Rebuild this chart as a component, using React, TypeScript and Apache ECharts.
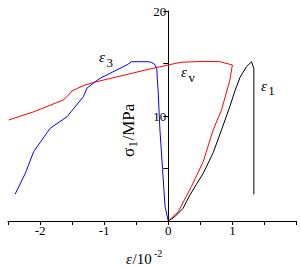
import React, { useEffect, useRef } from "react";
import * as echarts from "echarts";

// ε1 (axial strain) curve: [strain /10^-2, stress MPa]
const eps1X = [0, 0.1, 0.23, 0.34, 0.44, 0.545, 0.7, 0.83, 0.96, 1.04, 1.12, 1.22, 1.3, 1.335, 1.335];
const eps1Y = [0, 0.4, 1.2, 2.5, 3.5, 4.54, 6.5, 8.67, 10.9, 12.4, 13.7, 14.7, 15.17, 14.5, 2.54];

// εv (volumetric strain) curve
const epsVX = [0, 0.156, 0.36, 0.545, 0.7, 0.83, 0.96, 1.0, 0.8, 0.56, 0.2, 0, -0.285, -1.115, -1.3, -1.5, -1.58, -1.64, -2.1, -2.49];
const epsVY = [0, 0.89, 3.27, 5.65, 8.67, 10.57, 13.4, 14.86, 15.18, 15.2, 15.12, 14.86, 14.48, 13.27, 12.95, 12.4, 11.84, 11.52, 10.4, 9.62];

// ε3 (lateral strain) curve
const eps3X = [0, -0.05, -0.09, -0.13, -0.155, -0.17, -0.18, -0.21, -0.26, -0.31, -0.57, -0.648, -1.064, -1.14, -1.27, -1.324, -1.58, -1.843, -2.1, -2.23, -2.39];
const eps3Y = [0, 1.36, 5.0, 8.67, 12.0, 13.5, 14.5, 14.9, 15.1, 15.17, 15.17, 14.86, 13.59, 13.27, 12.64, 11.84, 9.93, 8.83, 6.6, 4.54, 2.54];

const xTickLabels = ["-2", "-1", "0", "1"];
const yTickLabels = ["10", "20"];

const zip = (xs: number[], ys: number[]) => xs.map((x, i) => [x, ys[i]]);

export default function App() {
  const ref = useRef<HTMLDivElement>(null);
  useEffect(() => {
    if (!ref.current) return;
    const chart = echarts.init(ref.current, undefined, { renderer: "svg" });
    const serif = "'Liberation Serif', 'Times New Roman', serif";
    const W = 301;
    const gridLeft = 8;
    const gridRight = 4.5;
    const xMin = -2.5;
    const xMax = 2;
    // place the y axis at x = 0 (shift from the grid's left edge)
    const zeroPx = gridLeft + ((0 - xMin) / (xMax - xMin)) * (W - gridLeft - gridRight);
    chart.setOption({
      animation: false,
      backgroundColor: "#ffffff",
      grid: {
        left: gridLeft,
        right: gridRight,
        top: 11,
        bottom: 46,
        containLabel: false,
        outerBoundsMode: "none",
      },
      xAxis: {
        type: "value",
        min: xMin,
        max: xMax,
        interval: 0.5,
        splitLine: { show: false },
        axisLine: { onZero: false, lineStyle: { color: "#000", width: 1 } },
        axisTick: { show: true, inside: false, length: 4, lineStyle: { color: "#000" } },
        axisLabel: {
          color: "#000",
          fontFamily: serif,
          fontSize: 13,
          margin: 3,
          showMinLabel: true,
          showMaxLabel: true,
          formatter: (v: number) => {
            const s = String(Math.round(v));
            return Number.isInteger(v) && xTickLabels.includes(s) ? s : "";
          },
        },
      },
      yAxis: {
        type: "value",
        position: "left",
        offset: -(zeroPx - gridLeft),
        min: 0,
        max: 20,
        interval: 5,
        splitLine: { show: false },
        axisLine: { onZero: false, lineStyle: { color: "#000", width: 1 } },
        axisTick: { show: true, inside: false, length: 5, lineStyle: { color: "#000" } },
        axisLabel: {
          color: "#000",
          fontFamily: serif,
          fontSize: 13,
          margin: 2,
          formatter: (v: number) => (yTickLabels.includes(String(v)) ? String(v) : ""),
        },
      },
      graphic: [
        // curve labels
        { type: "text", x: 99, y: 57, style: { text: "ε", font: `italic 15px ${serif}`, fill: "#000", verticalAlign: "middle", align: "left" } },
        { type: "text", x: 106.5, y: 62.5, style: { text: "3", font: `13px ${serif}`, fill: "#000", verticalAlign: "middle", align: "left" } },
        { type: "text", x: 181, y: 72, style: { text: "ε", font: `italic 15px ${serif}`, fill: "#000", verticalAlign: "middle", align: "left" } },
        { type: "text", x: 188.5, y: 77, style: { text: "v", font: `13px ${serif}`, fill: "#000", verticalAlign: "middle", align: "left" } },
        { type: "text", x: 261, y: 86, style: { text: "ε", font: `italic 15px ${serif}`, fill: "#000", verticalAlign: "middle", align: "left" } },
        { type: "text", x: 268.3, y: 90, style: { text: "1", font: `13px ${serif}`, fill: "#000", verticalAlign: "middle", align: "left" } },
        // y axis name
        {
          type: "group",
          x: 128,
          y: 157,
          rotation: Math.PI / 2,
          children: [
            { type: "text", x: 0, y: 0, style: { text: "σ", font: `17px ${serif}`, fill: "#000", verticalAlign: "middle", align: "left" } },
            { type: "text", x: 9.5, y: 4, style: { text: "1", font: `13px ${serif}`, fill: "#000", verticalAlign: "middle", align: "left" } },
            { type: "text", x: 16.5, y: 0, style: { text: "/MPa", font: `17px ${serif}`, fill: "#000", verticalAlign: "middle", align: "left" } },
          ],
        },
        // x axis name
        { type: "text", x: 126, y: 259, style: { text: "ε", font: `italic 15px ${serif}`, fill: "#000", verticalAlign: "middle", align: "left" } },
        { type: "text", x: 132.5, y: 259, style: { text: "/10", font: `15px ${serif}`, fill: "#000", verticalAlign: "middle", align: "left" } },
        { type: "text", x: 154, y: 253.5, style: { text: "-2", font: `10px ${serif}`, fill: "#000", verticalAlign: "middle", align: "left" } },
      ],
      series: [
        {
          name: "ε1",
          type: "line",
          data: zip(eps1X, eps1Y),
          showSymbol: false,
          symbol: "none",
          lineStyle: { color: "#000000", width: 1 },
          silent: true,
        },
        {
          name: "εv",
          type: "line",
          data: zip(epsVX, epsVY),
          showSymbol: false,
          symbol: "none",
          lineStyle: { color: "#ff0000", width: 1 },
          silent: true,
        },
        {
          name: "ε3",
          type: "line",
          data: zip(eps3X, eps3Y),
          showSymbol: false,
          symbol: "none",
          lineStyle: { color: "#0000ff", width: 1 },
          silent: true,
        },
      ],
    });
    return () => chart.dispose();
  }, []);
  return (
    <div
      ref={ref}
      style={{ position: "fixed", left: 0, top: 0, width: 301, height: 267, background: "#fff" }}
    />
  );
}
